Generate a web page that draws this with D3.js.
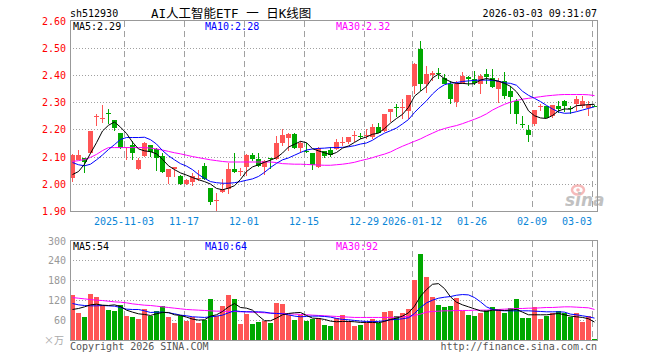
<!DOCTYPE html>
<html>
<head>
<meta charset="utf-8">
<script src="https://cdn.jsdelivr.net/npm/d3@7/dist/d3.min.js"></script>
<style>
  body { margin: 0; background: #fff; }
  svg { display: block; }
  text { font-family: "DejaVu Sans Mono", "Liberation Mono", monospace; font-size: 10px; }
</style>
</head>
<body>
<svg id="chart" width="660" height="360"></svg>
<script>
// daily K data, 88 sessions, oldest first
const open = [2.022,2.088,2.094,2.112,2.245,2.238,2.260,2.233,2.186,2.130,
  2.141,2.053,2.102,2.141,2.129,2.102,2.026,2.053,2.029,1.998,
  2.007,2.018,2.065,1.983,1.938,1.970,1.982,2.056,2.044,2.062,
  2.105,2.092,2.063,2.093,2.090,2.149,2.168,2.182,2.130,2.122,
  2.112,2.062,2.121,2.124,2.127,2.151,2.155,2.176,2.175,2.177,
  2.173,2.210,2.194,2.262,2.281,2.278,2.268,2.360,2.494,2.366,
  2.400,2.406,2.387,2.366,2.300,2.372,2.394,2.384,2.366,2.402,
  2.390,2.347,2.378,2.341,2.304,2.218,2.198,2.219,2.283,2.284,
  2.249,2.284,2.304,2.280,2.292,2.286,2.280,2.287];
const high = [2.108,2.124,2.094,2.194,2.255,2.288,2.274,2.236,2.188,2.137,
  2.157,2.096,2.154,2.143,2.130,2.112,2.053,2.062,2.031,2.016,
  2.041,2.050,2.078,1.983,1.967,2.016,2.078,2.114,2.059,2.108,
  2.112,2.114,2.086,2.096,2.176,2.200,2.188,2.188,2.157,2.151,
  2.114,2.135,2.122,2.137,2.163,2.173,2.173,2.194,2.188,2.203,
  2.219,2.225,2.258,2.274,2.292,2.310,2.325,2.445,2.525,2.433,
  2.415,2.427,2.402,2.378,2.378,2.409,2.396,2.415,2.402,2.423,
  2.421,2.390,2.409,2.360,2.311,2.249,2.215,2.271,2.292,2.284,
  2.288,2.304,2.308,2.286,2.323,2.323,2.304,2.288];
const low = [2.008,2.087,2.041,2.110,2.212,2.222,2.219,2.194,2.129,2.088,
  2.087,2.050,2.100,2.099,2.047,2.038,2.000,2.026,1.994,1.994,
  1.992,2.010,2.014,1.921,1.900,1.967,1.961,2.041,2.029,2.029,
  2.084,2.063,2.031,2.053,2.088,2.139,2.121,2.129,2.112,2.112,
  2.051,2.059,2.096,2.100,2.125,2.139,2.145,2.155,2.163,2.166,
  2.166,2.186,2.192,2.227,2.247,2.237,2.237,2.329,2.341,2.335,
  2.378,2.384,2.366,2.292,2.283,2.366,2.360,2.362,2.329,2.366,
  2.353,2.298,2.311,2.255,2.219,2.206,2.154,2.212,2.268,2.240,
  2.243,2.259,2.262,2.255,2.268,2.280,2.249,2.283];
const close = [2.105,2.105,2.081,2.194,2.249,2.242,2.256,2.204,2.133,2.134,
  2.112,2.086,2.151,2.117,2.096,2.043,2.053,2.062,1.998,2.014,
  2.029,2.021,2.016,1.933,1.941,1.982,2.056,2.043,2.047,2.105,
  2.090,2.065,2.084,2.090,2.151,2.178,2.183,2.130,2.151,2.119,
  2.068,2.133,2.102,2.105,2.155,2.154,2.173,2.179,2.172,2.180,
  2.210,2.188,2.255,2.274,2.278,2.282,2.325,2.439,2.366,2.402,
  2.406,2.403,2.366,2.311,2.366,2.396,2.384,2.372,2.396,2.394,
  2.357,2.378,2.323,2.320,2.255,2.215,2.178,2.271,2.286,2.243,
  2.288,2.274,2.284,2.277,2.311,2.304,2.288,2.284];
// volume, 万手
const volume = [135,82,68,138,130,105,90,87,105,72,
  69,63,92,72,87,104,68,52,72,58,
  68,52,60,124,72,102,135,124,48,78,
  48,55,58,52,112,108,75,60,75,58,
  62,65,45,42,65,75,58,42,45,52,
  62,52,85,88,72,82,93,180,258,189,
  129,105,100,102,126,88,75,72,82,90,
  98,92,82,95,123,66,66,98,63,72,
  80,88,80,68,80,55,72,4];

// moving averages as drawn on the chart
const ma5 = [2.034,2.045,2.072,2.112,2.151,2.194,2.215,2.227,2.208,2.185,
  2.153,2.128,2.121,2.118,2.110,2.090,2.066,2.052,2.040,2.032,
  2.023,2.015,2.008,1.999,1.983,1.978,1.984,1.993,2.016,2.045,
  2.062,2.070,2.079,2.087,2.096,2.113,2.135,2.145,2.156,2.151,
  2.129,2.121,2.114,2.107,2.115,2.131,2.139,2.152,2.165,2.172,
  2.182,2.186,2.203,2.223,2.240,2.255,2.281,2.322,2.340,2.358,
  2.389,2.403,2.386,2.375,2.368,2.369,2.367,2.368,2.381,2.387,
  2.382,2.377,2.369,2.358,2.338,2.308,2.268,2.250,2.242,2.240,
  2.251,2.268,2.275,2.274,2.287,2.289,2.291,2.292];
const ma10 = [2.078,2.070,2.066,2.072,2.088,2.106,2.126,2.144,2.163,2.170,
  2.170,2.170,2.171,2.162,2.146,2.122,2.103,2.088,2.074,2.065,
  2.052,2.034,2.020,2.008,2.004,2.002,2.002,2.004,2.008,2.013,
  2.018,2.027,2.042,2.060,2.075,2.088,2.095,2.105,2.115,2.124,
  2.128,2.130,2.131,2.133,2.133,2.134,2.136,2.140,2.146,2.150,
  2.160,2.174,2.186,2.195,2.205,2.220,2.236,2.262,2.284,2.305,
  2.330,2.350,2.364,2.370,2.372,2.376,2.378,2.380,2.381,2.381,
  2.380,2.377,2.371,2.369,2.362,2.340,2.325,2.314,2.302,2.288,
  2.275,2.264,2.259,2.260,2.265,2.271,2.277,2.283];
const ma30 = [2.082,2.085,2.089,2.097,2.108,2.122,2.133,2.133,2.133,2.133,
  2.133,2.133,2.133,2.131,2.128,2.124,2.119,2.114,2.110,2.105,
  2.100,2.096,2.092,2.088,2.085,2.082,2.080,2.080,2.080,2.080,
  2.080,2.080,2.080,2.080,2.078,2.074,2.073,2.072,2.072,2.071,
  2.070,2.069,2.068,2.068,2.070,2.072,2.075,2.079,2.085,2.090,
  2.096,2.103,2.109,2.117,2.128,2.138,2.147,2.156,2.165,2.176,
  2.186,2.196,2.203,2.209,2.214,2.221,2.229,2.237,2.246,2.257,
  2.271,2.282,2.292,2.300,2.306,2.311,2.314,2.317,2.320,2.323,
  2.325,2.327,2.328,2.328,2.328,2.328,2.327,2.324];
const volMa5 = [92,95,100,106,108,105,104,106,101,90,
  84,79,77,74,79,83,83,76,74,69,
  63,60,61,72,76,86,100,110,98,96,
  90,73,58,58,66,76,80,82,83,74,
  66,65,62,57,55,56,56,55,53,53,
  53,52,56,62,66,72,82,102,132,152,
  168,170,155,130,114,106,100,94,88,86,
  90,90,89,90,92,84,76,76,76,76,
  78,80,76,72,70,68,64,54];
const volMa10 = [110,106,104,103,103,104,103,102,98,93,
  92,92,88,83,84,84,82,79,75,73,
  70,69,68,70,72,75,82,88,86,85,
  85,85,84,81,80,79,76,72,70,71,
  72,72,71,69,65,62,61,59,57,56,
  56,56,58,61,62,64,67,80,98,112,
  120,126,129,131,135,137,136,128,115,100,
  92,89,88,88,88,88,88,87,86,85,
  85,85,84,78,76,73,70,66];
const volMa30 = [128,126,124,122,120,119,117,115,114,112,
  109,107,105,104,102,100,98,96,94,92,
  91,90,89,88,87,87,86,86,85,85,
  84,83,82,81,80,80,79,78,77,76,
  75,74,73,72,71,70,69,68,68,68,
  68,68,68,68,69,70,71,74,78,84,
  86,87,88,88,89,89,89,90,90,90,
  91,92,93,94,95,95,96,96,97,98,
  98,99,100,100,99,98,97,92];

const tickIndex = [9, 19, 29, 39, 49, 57, 67, 77, 87];
const tickLabels = ['2025-11-03','11-17','12-01','12-15','12-29','2026-01-12','01-26','02-09','03-03'];
const priceTicks = [1.9, 2.0, 2.1, 2.2, 2.3, 2.4, 2.5, 2.6];
const volTicks = [60, 120, 180, 240, 300];

const UP = '#ff5555', DOWN = '#00a800', GRID = '#a0a0a0';

const svg = d3.select('#chart');
const left = 70, right = 598;
const main = { top: 20.5, bottom: 211 };
const vol = { top: 240.5, bottom: 340 };

const x = d3.scaleBand().domain(d3.range(close.length)).range([left, right]);
const cx = i => x(i) + 2.5;
const y = d3.scaleLinear().domain([1.9, 2.6]).range([main.bottom, main.top]);
const yv = d3.scaleLinear().domain([0, 300]).range([vol.bottom, vol.top]);
const isUp = i => close[i] >= open[i];

// header
svg.append('text').attr('x', 70).attr('y', 17).attr('fill', '#000').text('sh512930');
svg.append('text').attr('x', 151).attr('y', 18)
  .style('font-family', '"DejaVu Sans Mono", "Noto Sans CJK SC", monospace').style('font-size', '12.5px')
  .attr('fill', '#000').text('AI人工智能ETF 一 日K线图');
svg.append('text').attr('x', 597).attr('y', 17).attr('text-anchor', 'end')
  .attr('fill', '#000').text('2026-03-03 09:31:07');

function panelGrid(top, bottom, hLines) {
  const g = svg.append('g').attr('shape-rendering', 'crispEdges');
  g.selectAll('line.h').data(hLines).join('line')
    .attr('x1', left).attr('x2', right - 1)
    .attr('y1', d => d).attr('y2', d => d)
    .attr('stroke', GRID).attr('stroke-dasharray', '1,2');
  g.selectAll('line.v').data(tickIndex).join('line')
    .attr('x1', d => x(d) + 0.5).attr('x2', d => x(d) + 0.5)
    .attr('y1', top).attr('y2', bottom)
    .attr('stroke', GRID).attr('stroke-dasharray', '6,4');
}
panelGrid(main.top, main.bottom, priceTicks.slice(1, -1).map(d => Math.round(y(d)) + 0.5));
panelGrid(vol.top, vol.bottom, volTicks.slice(0, -1).map(d => Math.round(yv(d)) + 0.5));

// watermark
const wm = svg.append('g').attr('opacity', 0.55);
wm.append('ellipse').attr('cx', 578).attr('cy', 190).attr('rx', 6).attr('ry', 4.5)
  .attr('fill', 'none').attr('stroke', '#f08080').attr('stroke-width', 2.5);
wm.append('circle').attr('cx', 578).attr('cy', 190).attr('r', 1.8).attr('fill', '#f08080');
wm.append('text').attr('x', 565).attr('y', 206)
  .style('font-family', '"DejaVu Sans", sans-serif').style('font-size', '17px')
  .style('font-weight', 'bold').style('font-style', 'italic')
  .attr('fill', '#909090').text('sina');

// candles
const candles = svg.append('g').attr('shape-rendering', 'crispEdges');
candles.selectAll('line').data(close).join('line')
  .attr('x1', (d, i) => Math.floor(cx(i)) + 0.5).attr('x2', (d, i) => Math.floor(cx(i)) + 0.5)
  .attr('y1', (d, i) => y(high[i])).attr('y2', (d, i) => y(low[i]))
  .attr('stroke', (d, i) => isUp(i) ? UP : DOWN);
candles.selectAll('rect').data(close).join('rect')
  .attr('x', (d, i) => x(i))
  .attr('width', 5)
  .attr('y', (d, i) => y(Math.max(open[i], close[i])))
  .attr('height', (d, i) => Math.max(1, Math.abs(y(open[i]) - y(close[i]))))
  .attr('fill', (d, i) => isUp(i) ? UP : DOWN);

// volume bars
svg.append('g').attr('shape-rendering', 'crispEdges')
  .selectAll('rect').data(volume).join('rect')
  .attr('x', (d, i) => x(i))
  .attr('width', 5)
  .attr('y', d => yv(d))
  .attr('height', d => vol.bottom - yv(d))
  .attr('fill', (d, i) => isUp(i) ? UP : DOWN);

// moving average lines
function maLine(values, scale, color) {
  svg.append('path').datum(values)
    .attr('fill', 'none').attr('stroke', color).attr('stroke-width', 1)
    .attr('d', d3.line().x((d, i) => cx(i)).y(d => scale(d)));
}
maLine(ma30, y, '#ff00ff');
maLine(ma10, y, '#0000ff');
maLine(ma5, y, '#000000');
maLine(volMa30, yv, '#ff00ff');
maLine(volMa10, yv, '#0000ff');
maLine(volMa5, yv, '#000000');

// panel borders
[main, vol].forEach(p => {
  svg.append('rect').attr('x', left + 0.5).attr('y', p.top)
    .attr('width', right - left - 1).attr('height', p.bottom - p.top)
    .attr('fill', 'none').attr('stroke', '#999').attr('shape-rendering', 'crispEdges');
});

// price axis labels
svg.append('g').selectAll('text').data(priceTicks).join('text')
  .attr('x', 66).attr('y', d => y(d) + 4).attr('text-anchor', 'end')
  .attr('fill', '#ff0000').text(d => d.toFixed(2));

// volume axis labels
svg.append('g').selectAll('text').data(volTicks).join('text')
  .attr('x', 66).attr('y', d => yv(d) + 4).attr('text-anchor', 'end')
  .attr('fill', '#999').text(d => d);
svg.append('text').attr('x', 64).attr('y', vol.bottom + 4).attr('text-anchor', 'end')
  .style('font-family', '"Noto Sans CJK SC", sans-serif').style('font-size', '10px')
  .attr('fill', '#aaa').text('×万');

// date labels
svg.append('g').selectAll('text').data(tickIndex).join('text')
  .attr('x', d => x(d))
  .attr('y', 225)
  .attr('text-anchor', (d, i) => i === tickIndex.length - 1 ? 'end' : 'middle')
  .attr('fill', '#0a86d8').text((d, i) => tickLabels[i]);

// MA legends
function legend(ty, items) {
  items.forEach(([tx, color, label]) => {
    svg.append('text').attr('x', tx).attr('y', ty).attr('fill', color).text(label);
  });
}
legend(30, [[73, '#000', 'MA5:2.29'], [205, '#0000ff', 'MA10:2.28'], [336, '#ff00ff', 'MA30:2.32']]);
legend(250, [[73, '#000', 'MA5:54'], [205, '#0000ff', 'MA10:64'], [336, '#ff00ff', 'MA30:92']]);

// footer
svg.append('text').attr('x', 70).attr('y', 350).attr('fill', '#555').text('Copyright 2026 SINA.COM');
svg.append('text').attr('x', 597).attr('y', 350).attr('text-anchor', 'end')
  .attr('fill', '#555').text('http://finance.sina.com.cn');
</script>
</body>
</html>
